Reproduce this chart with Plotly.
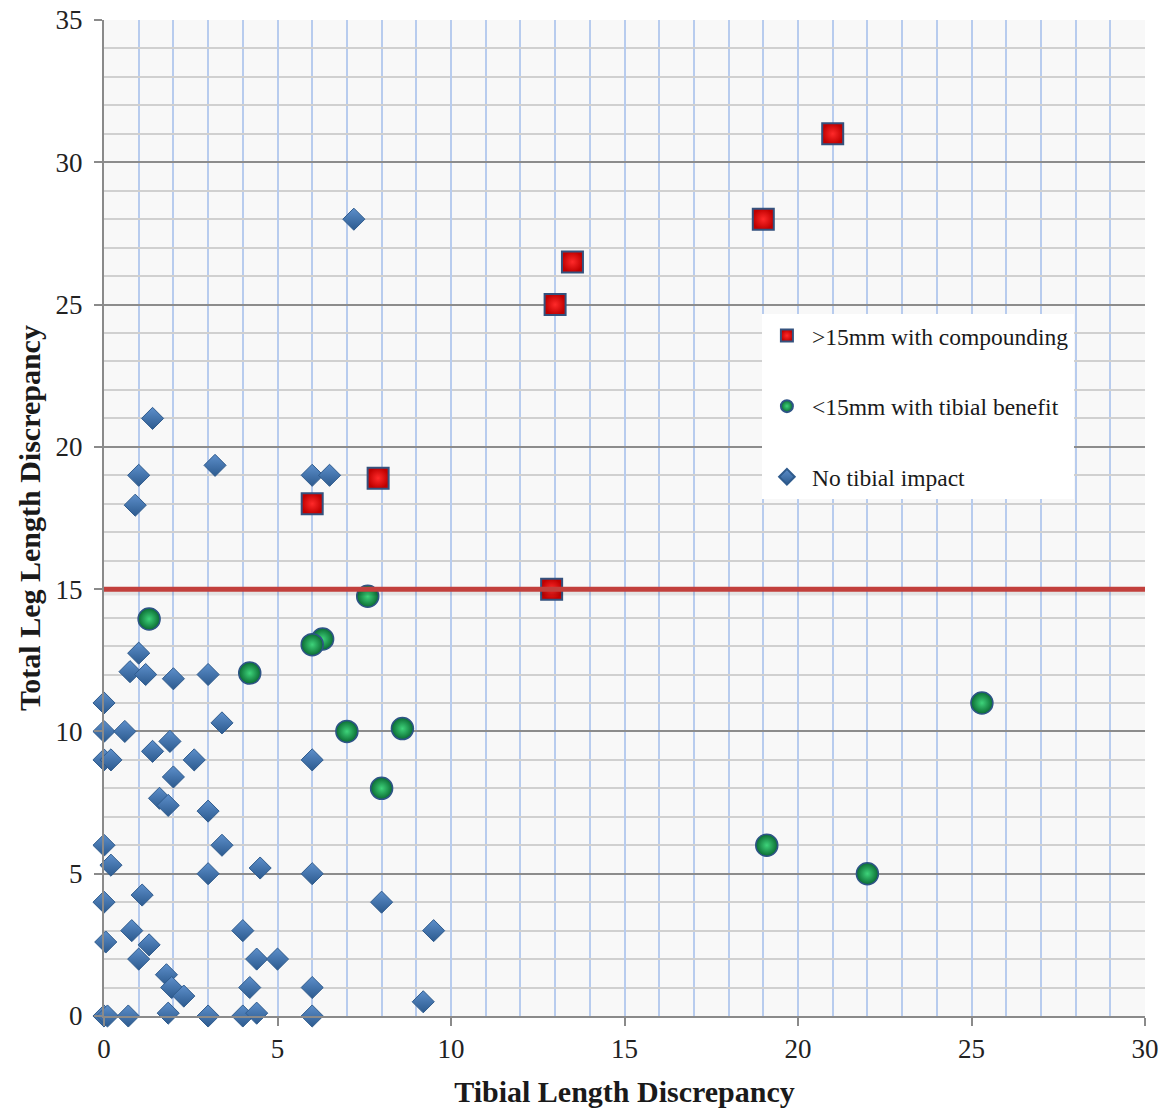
import plotly.graph_objects as go

# ---- data ----
red_x = [21, 19, 13.5, 13, 7.9, 6, 12.9]
red_y = [31, 28, 26.5, 25, 18.9, 18, 15]

green_x = [1.3, 7.6, 6.3, 6.0, 4.2, 7.0, 8.6, 8.0, 25.3, 19.1, 22.0]
green_y = [13.95, 14.75, 13.25, 13.05, 12.05, 10.0, 10.1, 8.0, 11.0, 6.0, 5.0]

blue_x = [7.2, 1.4, 3.2, 1.0, 0.9, 6.0, 6.5,
          1.0, 0.75, 1.2, 2.0, 3.0, 0, 3.4,
          0, 0.6, 1.9, 1.4, 0, 0.2, 2.6, 6.0,
          2.0, 1.6, 1.85, 3.0, 0, 3.4, 0.2, 3.0, 4.5, 6.0,
          1.1, 0, 8.0, 0.8, 4.0, 9.5, 0.05, 1.3, 1.0, 4.4, 5.0,
          1.8, 1.95, 2.3, 4.2, 6.0, 9.2,
          0, 0.1, 0.7, 1.85, 3.0, 4.0, 4.4, 6.0]
blue_y = [28, 21, 19.35, 19, 17.95, 19, 19,
          12.75, 12.1, 12.0, 11.85, 12.0, 11.0, 10.3,
          10, 10, 9.65, 9.3, 9, 9, 9, 9,
          8.4, 7.65, 7.4, 7.2, 6.0, 6.0, 5.3, 5.0, 5.2, 5.0,
          4.25, 4.0, 4.0, 3.0, 3.0, 3.0, 2.6, 2.5, 2.0, 2.0, 2.0,
          1.45, 1.0, 0.7, 1.0, 1.0, 0.5,
          0, 0, 0, 0.1, 0, 0, 0.1, 0]

names = [">15mm with compounding", "<15mm with tibial benefit", "No tibial impact"]
threshold = 15
x_range = [0, 30]
y_range = [0, 35]

SERIF = "Liberation Serif, Times New Roman, serif"

fig = go.Figure()

fig.add_trace(go.Scatter(
    x=blue_x, y=blue_y, mode="markers", name=names[2], legendgroup="c",
    legendrank=3, cliponaxis=False,
    marker=dict(symbol="diamond", size=17, color="#5d8fcb",
                gradient=dict(type="vertical", color="#2c5a8e"),
                line=dict(color="#2f5b8d", width=1)),
))
fig.add_trace(go.Scatter(
    x=green_x, y=green_y, mode="markers", name=names[1], legendgroup="b",
    legendrank=2, cliponaxis=False,
    marker=dict(symbol="circle", size=22, color="#0a6a32",
                gradient=dict(type="radial", color="#3ed37a"),
                line=dict(color="#2e5486", width=1.5)),
))
fig.add_trace(go.Scatter(
    x=red_x, y=red_y, mode="markers", name=names[0], legendgroup="a",
    legendrank=1, cliponaxis=False,
    marker=dict(symbol="square", size=21, color="#c00000",
                gradient=dict(type="radial", color="#ff2a2a"),
                line=dict(color="#34527e", width=2)),
))

fig.add_shape(type="line", xref="paper", x0=0, x1=1, yref="y",
              y0=threshold - 0.1, y1=threshold - 0.1,
              line=dict(color="rgba(0,0,0,0.08)", width=7), layer="above")
fig.add_shape(type="line", xref="paper", x0=0, x1=1, yref="y",
              y0=threshold, y1=threshold,
              line=dict(color="#c2403d", width=5), layer="above")

fig.update_layout(
    width=1165, height=1111,
    margin=dict(l=104, r=20, t=20, b=95),
    paper_bgcolor="white", plot_bgcolor="#f8f8f8",
    font=dict(family=SERIF, color="#222222"),
    showlegend=True,
    legend=dict(x=0.632, y=0.705, xanchor="left", yanchor="top",
                bgcolor="white", borderwidth=0,
                font=dict(family=SERIF, size=23.5, color="#1a1a1a"),
                traceorder="grouped", tracegroupgap=37,
                itemsizing="constant", itemwidth=40),
    xaxis=dict(range=x_range, dtick=5, tick0=0,
               showgrid=True, gridcolor="#b8ccee", gridwidth=2,
               minor=dict(dtick=1, showgrid=True, gridcolor="#b8ccee", gridwidth=2,
                          ticks=""),
               showline=True, linecolor="#8a8a8a", linewidth=2,
               ticks="outside", ticklen=8, tickcolor="#8a8a8a", tickwidth=2,
               zeroline=False, ticklabeloverflow="allow",
               tickfont=dict(family=SERIF, size=27, color="#222222"),
               title=dict(text="<b>Tibial Length Discrepancy</b>",
                          font=dict(family=SERIF, size=30, color="#1a1a1a"),
                          standoff=18),
               automargin=False),
    yaxis=dict(range=y_range, dtick=5, tick0=0,
               showgrid=True, gridcolor="#8c8c8c", gridwidth=2,
               minor=dict(dtick=1, showgrid=True, gridcolor="#d0d0d0", gridwidth=2,
                          ticks=""),
               showline=True, linecolor="#8a8a8a", linewidth=2,
               ticks="outside", ticklen=8, tickcolor="#8a8a8a", tickwidth=2,
               zeroline=False, ticklabelstandoff=6, ticklabeloverflow="allow",
               tickfont=dict(family=SERIF, size=27, color="#222222"),
               title=dict(text="<b>Total Leg Length Discrepancy</b>",
                          font=dict(family=SERIF, size=30, color="#1a1a1a"),
                          standoff=6),
               automargin=False),
)

fig.write_html("out.html", config={"displayModeBar": False},
               post_script="document.body.style.margin='0';")
